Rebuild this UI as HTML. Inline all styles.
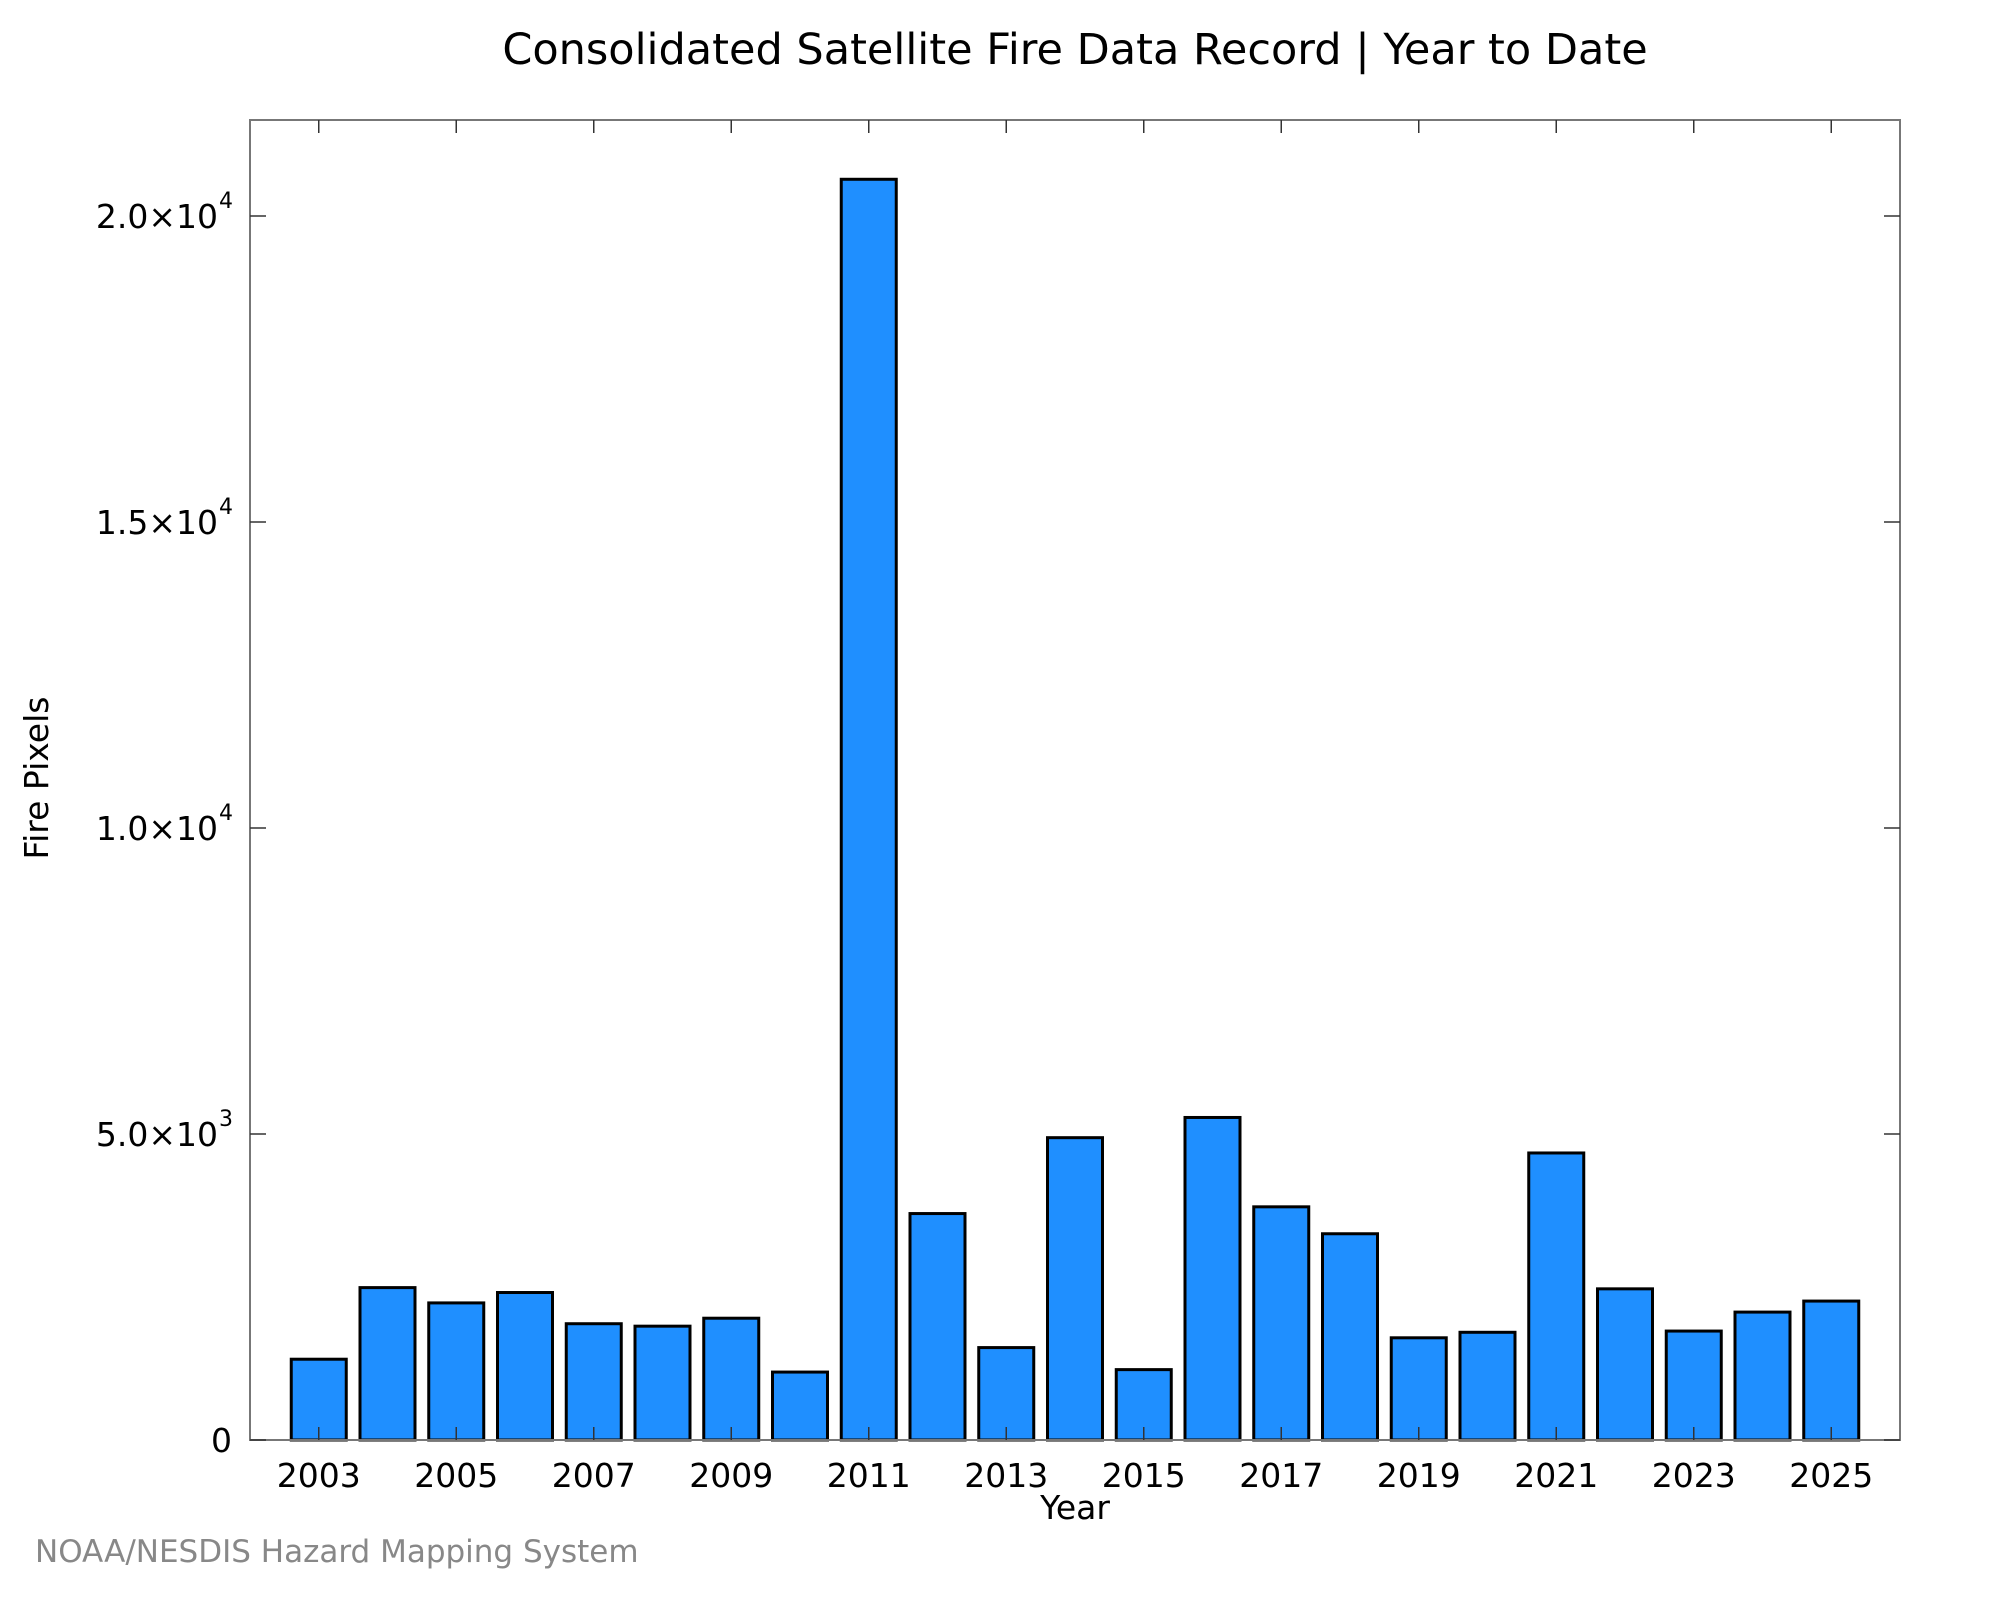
<!DOCTYPE html>
<html><head><meta charset="utf-8"><style>
html,body{margin:0;padding:0;background:#fff;}
svg{display:block;font-family:"DejaVu Sans","Liberation Sans",sans-serif;}
</style></head><body>
<svg id="chart" width="2000" height="1600" viewBox="0 0 2000 1600">
<text x="1075" y="64" font-size="43" text-anchor="middle">Consolidated Satellite Fire Data Record | Year to Date</text>
<g id="bars"></g>
<g id="axes"></g>
<text x="1075" y="1519" font-size="33" text-anchor="middle">Year</text>
<text transform="translate(48,778) rotate(-90)" font-size="33" text-anchor="middle">Fire Pixels</text>
<text x="35" y="1562" font-size="31" fill="#888">NOAA/NESDIS Hazard Mapping System</text>
</svg>
<script>
const years = [2003,2004,2005,2006,2007,2008,2009,2010,2011,2012,2013,2014,2015,2016,2017,2018,2019,2020,2021,2022,2023,2024,2025];
const firePixels = [1320,2490,2240,2410,1900,1860,1990,1110,20600,3700,1510,4940,1150,5270,3810,3370,1670,1760,4690,2470,1780,2090,2270];
const xTickYears = [2003,2005,2007,2009,2011,2013,2015,2017,2019,2021,2023,2025];
const yTickValues = [0,5000,10000,15000,20000];
const yTickMantissa = ["0","5.0","1.0","1.5","2.0"];
const yTickExp = ["","3","4","4","4"];

const L=250,R=1900,T=120,B=1440;
const xMin=2002,xMax=2026,yMax=(B-T)/0.0612;
const xs=v=>L+(v-xMin)/(xMax-xMin)*(R-L);
const ys=v=>B-v/yMax*(B-T);
const NS="http://www.w3.org/2000/svg";
function mk(tag,attrs,parent){const e=document.createElementNS(NS,tag);for(const k in attrs)e.setAttribute(k,attrs[k]);parent.appendChild(e);return e;}
const bars=document.getElementById('bars'),axes=document.getElementById('axes');
const bw=(xs(1)-xs(0))*0.8;
years.forEach((yr,i)=>{
  const r=mk('rect',{x:xs(yr)-bw/2,y:ys(firePixels[i]),width:bw,height:B-ys(firePixels[i]),fill:'#1f8fff',stroke:'#000','stroke-width':3},bars);
  
  
});
const frame=mk('rect',{x:L,y:T,width:R-L,height:B-T,fill:'none',stroke:'#777','stroke-width':2},axes);


xTickYears.forEach(yr=>{
  const x=xs(yr);
  mk('line',{x1:x,y1:B,x2:x,y2:B-13,stroke:'#333','stroke-width':1.5},axes);
  mk('line',{x1:x,y1:T,x2:x,y2:T+13,stroke:'#333','stroke-width':1.5},axes);
  const t=mk('text',{x:x,y:B+47,'font-size':33,'text-anchor':'middle'},axes);
  t.textContent=yr;
  
  
});
yTickValues.forEach((v,i)=>{
  const y=ys(v);
  mk('line',{x1:L,y1:y,x2:L+16,y2:y,stroke:'#333','stroke-width':1.5},axes);
  mk('line',{x1:R,y1:y,x2:R-16,y2:y,stroke:'#333','stroke-width':1.5},axes);
  const t=mk('text',{x:yTickExp[i]?218:232,y:y+12,'font-size':33,'text-anchor':'end'},axes);
  
  
  if(yTickExp[i]){
    t.textContent=yTickMantissa[i]+'\u00d710';
    const s=mk('text',{x:219,y:y-8,'font-size':22},axes);
    s.textContent=yTickExp[i];
    
    
  } else t.textContent=yTickMantissa[i];
});
</script>
</body></html>
